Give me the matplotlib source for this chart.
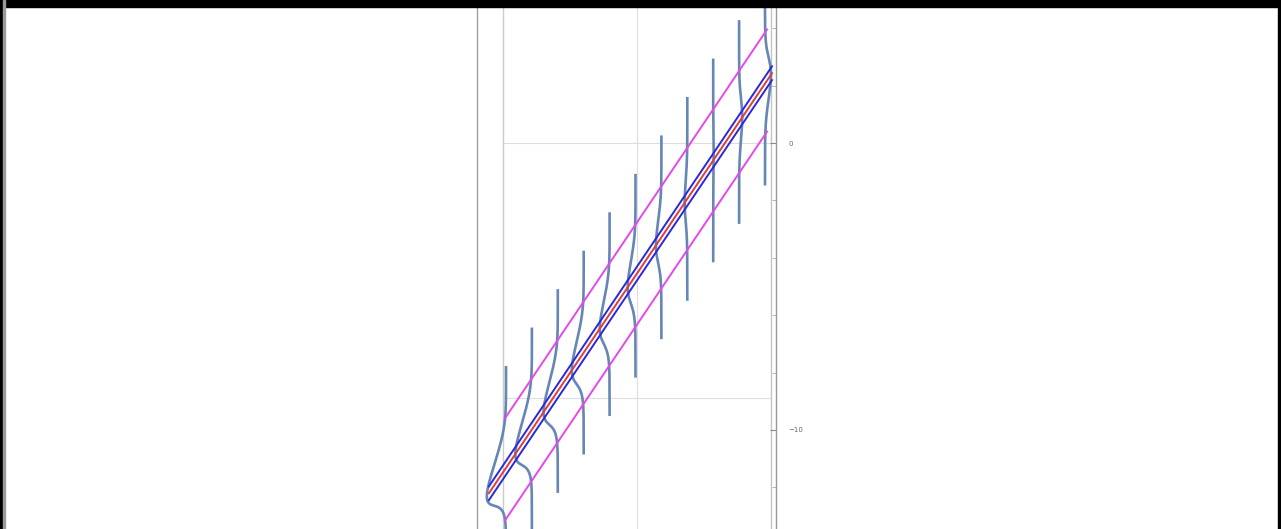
import numpy as np
import matplotlib
matplotlib.use("Agg")
import matplotlib.pyplot as plt
from matplotlib.patches import Rectangle
from matplotlib.ticker import MultipleLocator

# ---- data ----
curve_x = [0, 1, 2, 3, 4, 5, 6, 7, 8, 9, 10]
curve_amp = [-0.74, -0.64, -0.55, -0.46, -0.38, -0.30, -0.21, -0.10, 0.02, 0.12, 0.23]
curve_sigma = 0.72
curve_halfspan = 3.55

fit_intercept = -11.32
fit_slope = 1.339
fit_x = [-0.66, 10.27]
ci_half = 0.24
pi_half = 1.78
pi_x = [-0.04, 10.08]

y_major = [0, -10]
grid_y = [0, -8.88]
grid_x = [5.06]
inner_left_x = -0.12
inner_right_x = 10.23

# ---- figure ----
W, H = 1281, 529
fig = plt.figure(figsize=(W / 100, H / 100), dpi=100)
fig.patch.set_facecolor("white")

ax_l, ax_r, ax_t, ax_b = 477, 776, 7, 529
ax = fig.add_axes([ax_l / W, 1 - ax_b / H, (ax_r - ax_l) / W, (ax_b - ax_t) / H])
ax.set_facecolor("none")

px_x, px_y = 25.9, 28.7
ax.set_xlim((ax_l - 506) / px_x, (ax_r - 506) / px_x)
ax.set_ylim((143 - ax_b) / px_y, (143 - ax_t) / px_y)

# grid / box lines
for gy in grid_y:
    ax.plot([inner_left_x, inner_right_x], [gy, gy], color="#dddddd", lw=0.8, zorder=0)
for gx in grid_x:
    ax.axvline(gx, color="#dddddd", lw=0.8, zorder=0)
ax.axvline(inner_left_x, color="#cccccc", lw=1.0, zorder=0)
ax.axvline(inner_right_x, color="#c4c4c4", lw=1.0, zorder=0)

# fit line, confidence & prediction bands
fx = np.array(fit_x)
px = np.array(pi_x)
ax.plot(fx, fit_intercept + fit_slope * fx, color="#e23b3b", lw=1.4, zorder=4)
for s in (-1, 1):
    ax.plot(fx, fit_intercept + fit_slope * fx + s * ci_half, color="#2828dc", lw=1.4, zorder=4)
    ax.plot(px, fit_intercept + fit_slope * px + s * pi_half, color="#e648ea", lw=1.4, zorder=4)

# density curves
t = np.linspace(-curve_halfspan, curve_halfspan, 500)
g = np.exp(-t ** 2 / (2 * curve_sigma ** 2))
for xc, a in zip(curve_x, curve_amp):
    yc = fit_intercept + fit_slope * xc
    ax.plot(xc + a * g, yc + t + fit_slope * a * g, color="#6686b5", lw=1.9,
            zorder=3, solid_capstyle="butt", solid_joinstyle="round")

# axes styling
for side in ("top", "bottom"):
    ax.spines[side].set_visible(False)
ax.spines["left"].set_color("#a0a0a0")
ax.spines["left"].set_linewidth(1.0)
ax.spines["right"].set_color("#999999")
ax.spines["right"].set_linewidth(1.0)
ax.set_xticks([])
ax.yaxis.tick_right()
ax.set_yticks(y_major)
ax.yaxis.set_minor_locator(MultipleLocator(2))
ax.tick_params(axis="y", which="major", direction="in", length=4, width=0.8,
               color="#888888", labelsize=5, labelcolor="#666666", pad=9)
ax.tick_params(axis="y", which="minor", direction="in", length=3, width=0.6,
               color="#aaaaaa")
ax.tick_params(axis="y", which="both", left=False)

# screenshot frame
fig.add_artist(Rectangle((0, 1 - 7 / H), 1, 7 / H, transform=fig.transFigure,
                         color="black", zorder=10))
fig.add_artist(Rectangle((0, 0), 3 / W, 1, transform=fig.transFigure,
                         color="black", zorder=10))
fig.add_artist(Rectangle((3 / W, 0), 2 / W, 1, transform=fig.transFigure,
                         color="#9a9a9a", zorder=10))
fig.add_artist(Rectangle((1 - 3 / W, 0), 3 / W, 1, transform=fig.transFigure,
                         color="black", zorder=10))

fig.savefig("out.png", dpi=100)
